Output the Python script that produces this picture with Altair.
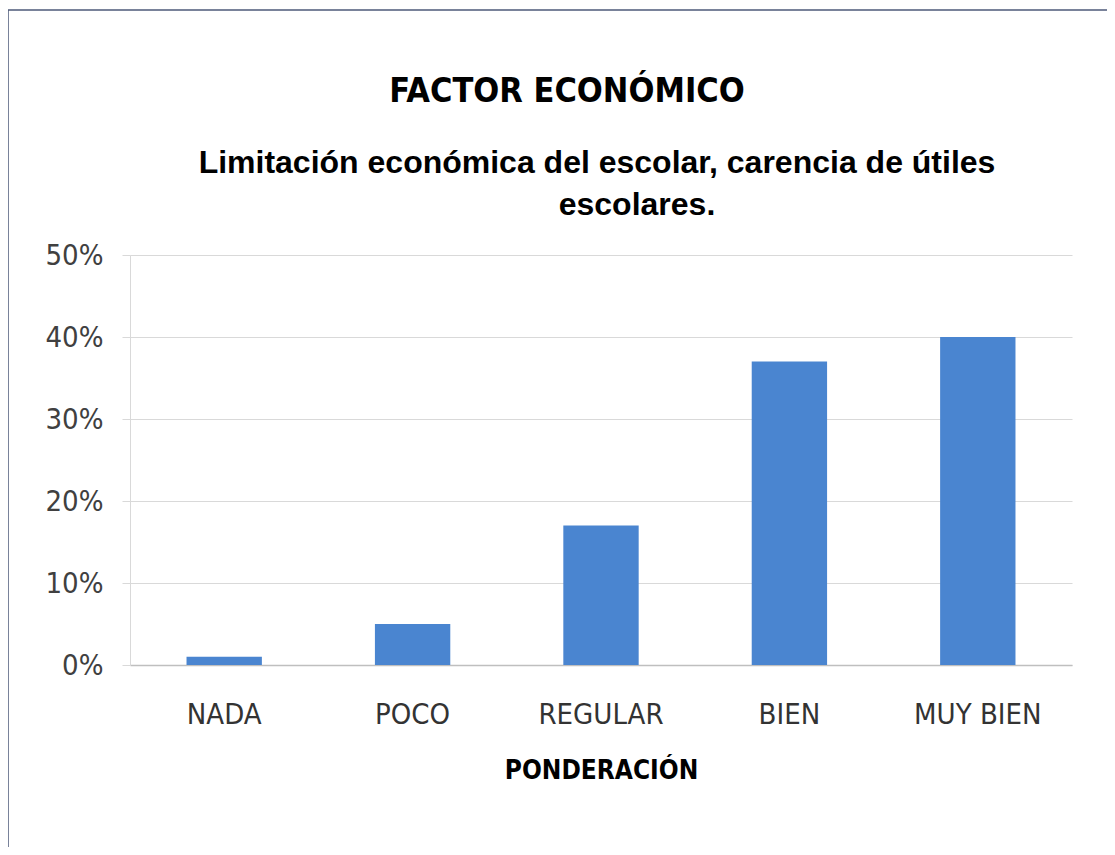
import altair as alt
import pandas as pd

categories = ["NADA", "POCO", "REGULAR", "BIEN", "MUY BIEN"]
values = [0.01, 0.05, 0.17, 0.37, 0.40]
y_ticks = [0, 0.1, 0.2, 0.3, 0.4, 0.5]

main_title = "FACTOR ECONÓMICO"
subtitle_1 = "Limitación económica del escolar, carencia de útiles"
subtitle_2 = "escolares."
x_title = "PONDERACIÓN"

NARROW = "DejaVu Sans Condensed, sans-serif"
SANS = "Liberation Sans, Arial, sans-serif"

df = pd.DataFrame({"cat": categories, "val": values})

bars = alt.Chart(df).mark_bar(color="#4A85D0").encode(
    x=alt.X("cat:N", sort=categories,
            scale=alt.Scale(paddingInner=0.6, paddingOuter=0.3),
            axis=alt.Axis(labelAngle=0, ticks=False, domainColor="#bfbfbf", domainWidth=1.5,
                          labelFont=NARROW, labelFontSize=29, labelColor="#333333",
                          labelPadding=35, title=x_title, titleFont=NARROW,
                          titleFontSize=26, titleFontWeight="bold", titleColor="#000000",
                          titlePadding=28, grid=False)),
    y=alt.Y("val:Q", scale=alt.Scale(domain=[0, 0.5]),
            axis=alt.Axis(format=".0%", values=y_ticks, tickSize=8, tickColor="#d9d9d9",
                          domainColor="#d9d9d9", gridColor="#d9d9d9", grid=True,
                          labelFont=NARROW, labelFontSize=29, labelColor="#404040",
                          labelPadding=19, title=None)),
)

frame = alt.Chart(pd.DataFrame({"k": [0]})).mark_rect(
    fill="transparent", stroke="#4d5a7a", strokeWidth=1.5
).encode(x=alt.value(-122), x2=alt.value(1000), y=alt.value(-245), y2=alt.value(640))

t_main = alt.Chart(pd.DataFrame({"t": [main_title]})).mark_text(
    font=NARROW, fontSize=34, fontWeight="bold", color="#000000", align="center", baseline="alphabetic"
).encode(text="t:N", x=alt.value(437), y=alt.value(-153))

t_sub1 = alt.Chart(pd.DataFrame({"t": [subtitle_1]})).mark_text(
    font=SANS, fontSize=32, fontWeight="bold", color="#000000", align="center", baseline="alphabetic"
).encode(text="t:N", x=alt.value(467), y=alt.value(-82))

t_sub2 = alt.Chart(pd.DataFrame({"t": [subtitle_2]})).mark_text(
    font=SANS, fontSize=32, fontWeight="bold", color="#000000", align="center", baseline="alphabetic"
).encode(text="t:N", x=alt.value(507), y=alt.value(-40))

chart = alt.layer(frame, bars, t_main, t_sub1, t_sub2).properties(
    width=942, height=410,
    autosize=alt.AutoSizeParams(type="none"),
    padding={"left": 122, "top": 247, "right": 35, "bottom": 182},
    background="white",
).configure_view(stroke=None)

chart.save("out.html", embed_options={"renderer": "svg", "actions": False})
